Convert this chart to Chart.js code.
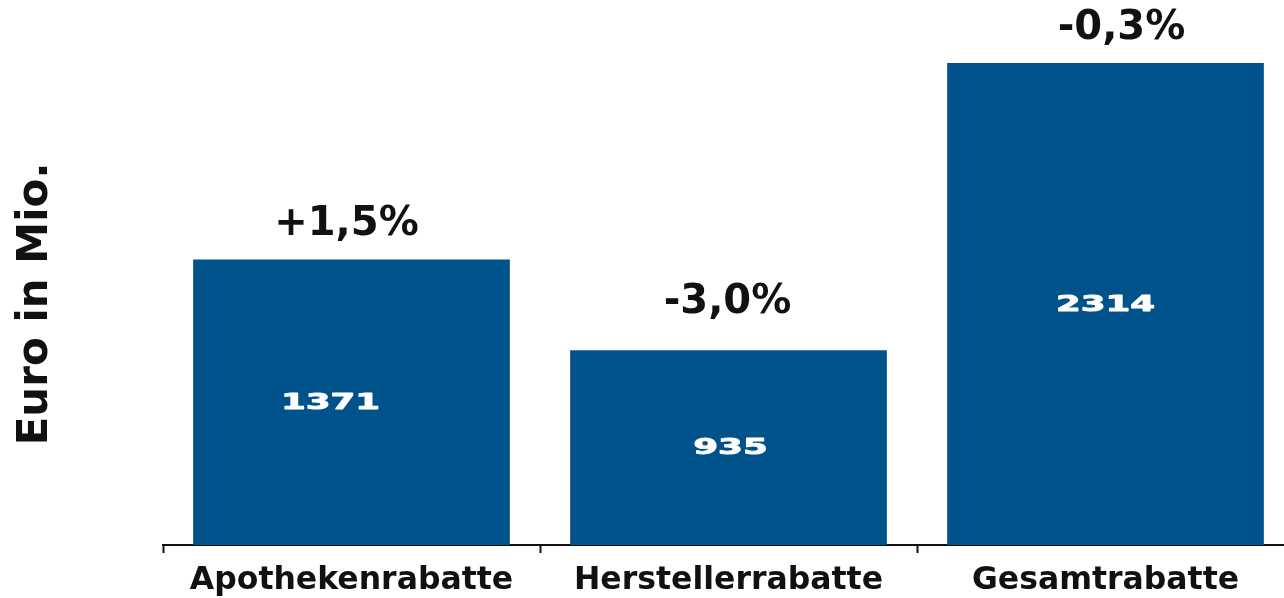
<!DOCTYPE html>
<html>
<head>
<meta charset="utf-8">
<script src="https://cdn.jsdelivr.net/npm/chart.js@4/dist/chart.umd.min.js"></script>
<style>
  html, body { margin: 0; padding: 0; background: #fff; overflow: hidden; }
  #wrap { width: 1294px; height: 598px; }
</style>
</head>
<body>
<div id="wrap"><canvas id="c" width="1294" height="598"></canvas></div>
<script>
const categories = ['Apothekenrabatte', 'Herstellerrabatte', 'Gesamtrabatte'];
const values = [1371, 935, 2314];
const changeLabels = ['+1,5%', '-3,0%', '-0,3%'];
const yTitle = 'Euro in Mio.';

const FONT = "'DejaVu Sans', Verdana, sans-serif";
const TEXT = '#111111';
const BAR = '#00538A';

const labelPlugin = {
  id: 'barLabels',
  afterDatasetsDraw(chart, args, opts) {
    const ctx = chart.ctx;
    const meta = chart.getDatasetMeta(0);
    meta.data.forEach((bar, i) => {
      ctx.save();
      ctx.font = "bold 40px " + FONT;
      ctx.fillStyle = TEXT;
      ctx.textAlign = 'center';
      ctx.textBaseline = 'middle';
      ctx.fillText(changeLabels[i], bar.x + opts.aboveDx[i], bar.y - opts.above[i]);
      ctx.restore();

      ctx.save();
      ctx.font = "bold 22px " + FONT;
      ctx.fillStyle = '#ffffff';
      ctx.strokeStyle = '#ffffff';
      ctx.lineWidth = 0.9;
      ctx.lineJoin = 'round';
      ctx.textAlign = 'center';
      ctx.textBaseline = 'middle';
      const cy = (bar.y + bar.base) / 2 + 1;
      ctx.translate(bar.x + opts.insideDx[i], cy);
      ctx.scale(1.62, 1);
      ctx.fillText(String(values[i]), 0, 0);
      ctx.strokeText(String(values[i]), 0, 0);
      ctx.restore();
    });
    ctx.save();
    ctx.font = "bold 42px " + FONT;
    ctx.fillStyle = TEXT;
    ctx.textAlign = 'center';
    ctx.textBaseline = 'middle';
    ctx.translate(36, 304);
    ctx.rotate(-Math.PI / 2);
    ctx.fillText(yTitle, 0, 0);
    ctx.restore();
  }
};

new Chart(document.getElementById('c'), {
  type: 'bar',
  data: {
    labels: categories,
    datasets: [{
      data: values,
      backgroundColor: BAR,
      borderWidth: 0,
      barPercentage: 0.84,
      categoryPercentage: 1.0
    }]
  },
  options: {
    responsive: false,
    animation: false,
    events: [],
    layout: { padding: 0 },
    plugins: {
      legend: { display: false },
      tooltip: { enabled: false },
      barLabels: { above: [35, 48, 34], aboveDx: [-5, -1, 16], insideDx: [-21, 2, 0] }
    },
    scales: {
      x: {
        offset: true,
        grid: {
          display: true,
          drawOnChartArea: false,
          drawTicks: true,
          tickLength: 8,
          tickWidth: 2,
          tickColor: '#111111',
          offset: true
        },
        border: { display: true, color: '#111111', width: 2 },
        ticks: {
          color: TEXT,
          font: { family: FONT, size: 31.5, weight: 'bold' },
          padding: 9,
          maxRotation: 0,
          autoSkip: false
        },
        afterFit(s) { s.height = 53; }
      },
      y: {
        min: 0,
        max: 2616,
        grid: { display: false },
        border: { display: false },
        ticks: { display: false },
        title: { display: false },
        afterFit(s) { s.width = 163; }
      }
    }
  },
  plugins: [labelPlugin]
});
</script>
</body>
</html>
